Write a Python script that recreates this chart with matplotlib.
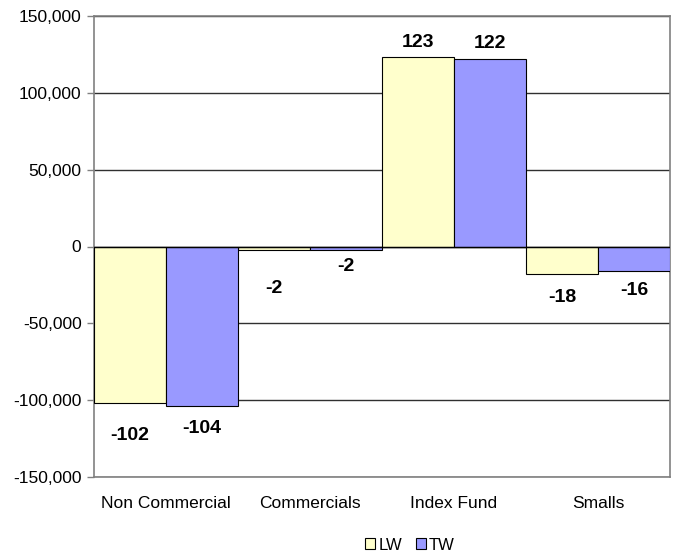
import numpy as np
import matplotlib.pyplot as plt
from matplotlib.ticker import FuncFormatter

# Data (net positions)
categories = ['Non Commercial', 'Commercials', 'Index Fund', 'Smalls']
lw_values = [-102000, -2000, 123000, -18000]
tw_values = [-104000, -2000, 122000, -16000]
lw_labels = ['-102', '-2', '123', '-18']
tw_labels = ['-104', '-2', '122', '-16']

# label offsets in points (Excel labels were nudged by hand)
lw_offsets = [-23, -28, 11, -17]
tw_offsets = [-16, -12, 11, -14]

plt.rcParams['font.family'] = ['Liberation Sans', 'DejaVu Sans']

fig = plt.figure(figsize=(6.73, 5.58), dpi=100)
ax = fig.add_axes([94 / 673, 1 - 477 / 558, 576 / 673, 461 / 558])

x = np.arange(len(categories))
w = 0.5
ax.bar(x - w / 2, lw_values, w, color='#FFFFCC', edgecolor='black', linewidth=0.8, label='LW', zorder=3)
ax.bar(x + w / 2, tw_values, w, color='#9999FF', edgecolor='black', linewidth=0.8, label='TW', zorder=3)

for i in range(len(categories)):
    ax.annotate(lw_labels[i], (x[i] - w / 2, lw_values[i]), xytext=(0, lw_offsets[i]),
                textcoords='offset points', ha='center', va='center',
                fontsize=14, fontweight='bold')
    ax.annotate(tw_labels[i], (x[i] + w / 2, tw_values[i]), xytext=(0, tw_offsets[i]),
                textcoords='offset points', ha='center', va='center',
                fontsize=14, fontweight='bold')

ax.set_xlim(-0.5, len(categories) - 0.5)
ax.set_ylim(-150000, 150000)
ax.set_yticks(np.arange(-150000, 150001, 50000))
ax.yaxis.set_major_formatter(FuncFormatter(lambda v, p: f'{int(v):,}'))
ax.set_xticks(x)
ax.set_xticklabels(categories)
ax.tick_params(axis='x', length=0, pad=14, labelsize=12.5)
ax.tick_params(axis='y', length=5, width=1, color='#808080', labelsize=12.5, pad=4)

ax.grid(axis='y', color='#303030', linewidth=1, zorder=0)
ax.axhline(0, color='black', linewidth=1, zorder=4)
for s in ax.spines.values():
    s.set_color('#808080')
    s.set_linewidth(1.2)

ax.legend(loc='center', bbox_to_anchor=(410 / 673, 1 - 545 / 558), bbox_transform=fig.transFigure,
          ncol=2, frameon=False, fontsize=12, handlelength=0.6, handleheight=0.6,
          handletextpad=0.2, columnspacing=0.8)

fig.savefig('out.png', dpi=100)
